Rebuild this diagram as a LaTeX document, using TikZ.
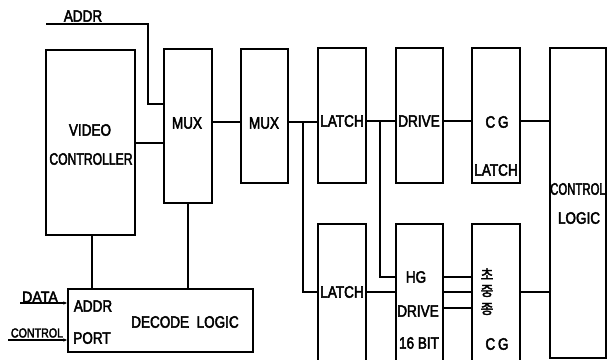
\documentclass[tikz,border=0pt]{standalone}
\usepackage{fontspec}
\setmainfont{Liberation Sans}[FakeStretch=0.82, FakeBold=2.6]
\newfontfamily\kr{Noto Sans CJK KR}[FakeBold=2.5]
\usetikzlibrary{arrows.meta}
\tikzset{
  blk/.style={draw, rectangle, inner sep=0pt, line width=1.2pt},
  lbl/.style={inner sep=0pt, font=\fontsize{16.5}{17}\selectfont},
  squeeze/.style={xscale=#1, transform shape},
  slbl/.style={inner sep=0pt, font=\fontsize{15.5}{16}\selectfont},
  sslbl/.style={inner sep=0pt, font=\fontsize{13}{13}\selectfont},
  klbl/.style={inner sep=0pt, font=\kr\fontsize{14}{14}\selectfont},
  wire/.style={line width=1.1pt},
  inarrow/.style={line width=1.1pt, -{Latex[length=4pt,width=3.5pt]}}
}
\begin{document}
\begin{tikzpicture}[x=1pt,y=-1pt]
\useasboundingbox (0,0) rectangle (615,359);
\clip (0,0) rectangle (615,359);
% boxes
\node[blk, minimum width=89pt, minimum height=185pt] (vc) at (90.5,142.5) {};
\node[blk, minimum width=48pt, minimum height=154pt] (mux1) at (188,126) {};
\node[blk, minimum width=47pt, minimum height=134pt] (mux2) at (264.5,116) {};
\node[blk, minimum width=48pt, minimum height=135pt] (latch1) at (342,115.5) {};
\node[blk, minimum width=47pt, minimum height=135pt] (drive) at (419.5,115.5) {};
\node[blk, minimum width=48pt, minimum height=135pt] (cgl) at (496,115.5) {};
\node[blk, minimum width=56pt, minimum height=310pt] (ctrl) at (578,203) {};
\node[blk, minimum width=48pt, minimum height=146pt] (latch2) at (342,297) {};
\node[blk, minimum width=47pt, minimum height=146pt] (hg) at (419.5,297) {};
\node[blk, minimum width=48pt, minimum height=146pt] (cg) at (496,297) {};
\node[blk, minimum width=185pt, minimum height=63pt] (dec) at (160.5,320.5) {};
% texts
\node[lbl] (t1) at (90,130) {VIDEO};
\node[lbl, squeeze=0.9] (t2) at (91,159) {CONTROLLER};
\node[lbl] (t3) at (187,123) {MUX};
\node[lbl] (t4) at (264,123) {MUX};
\node[lbl] (t5) at (342,121) {LATCH};
\node[lbl] (t6) at (419,121) {DRIVE};
\node[lbl] (t7) at (497,122) {C\,G};
\node[lbl] (t8) at (496,170) {LATCH};
\node[lbl, squeeze=0.84] (t9) at (578,189) {CONTROL};
\node[lbl] (t10) at (579,218) {LOGIC};
\node[lbl] (t11) at (342,292) {LATCH};
\node[lbl] (t12) at (416,277) {HG};
\node[lbl] (t13) at (418,311) {DRIVE};
\node[lbl] (t14) at (419,343) {16 BIT};
\node[klbl] (k1) at (487,274) {초};
\node[klbl] (k2) at (487,291) {중};
\node[klbl] (k3) at (487,309) {종};
\node[lbl] (t15) at (497,344) {C\,G};
\node[lbl] (t16) at (93,306) {ADDR};
\node[lbl] (t17) at (92,338) {PORT};
\node[lbl] (t18) at (185,322) {DECODE\ \ LOGIC};
\node[lbl] (t19) at (83,16) {ADDR};
\node[slbl, squeeze=1.12] (t20) at (40,297) {DATA};
\node[sslbl] (t21) at (37,333) {CONTROL};
% connectors
\coordinate (addrs) at (46,24);
\draw[wire] (addrs) -- (148,24) -- (148,104) -- (mux1.west |- 0,104);
\draw[wire] (vc.east |- 0,143) -- (mux1.west |- 0,143);
\draw[wire] (mux1.east |- 0,122) -- (mux2.west |- 0,122);
\draw[wire] (mux2.east |- 0,122) -- (latch1.west |- 0,122);
\draw[wire] (303,122) -- (303,292) -- (latch2.west |- 0,292);
\draw[wire] (latch1.east |- 0,121) -- (drive.west |- 0,121);
\draw[wire] (380,121) -- (380,277) -- (hg.west |- 0,277);
\draw[wire] (drive.east |- 0,121) -- (cgl.west |- 0,121);
\draw[wire] (cgl.east |- 0,121) -- (ctrl.west |- 0,121);
\draw[wire] (latch2.east |- 0,292) -- (hg.west |- 0,292);
\draw[wire] (hg.east |- 0,277) -- (cg.west |- 0,277);
\draw[wire] (hg.east |- 0,292) -- (cg.west |- 0,292);
\draw[wire] (hg.east |- 0,308) -- (cg.west |- 0,308);
\draw[wire] (cg.east |- 0,292) -- (ctrl.west |- 0,292);
\draw[wire] (vc.south -| 92,0) -- (dec.north -| 92,0);
\draw[wire] (mux1.south) -- (dec.north -| mux1.south);
\coordinate (datas) at (20,303);
\coordinate (ctrls) at (8,340);
\draw[inarrow] (datas) -- (dec.west |- datas);
\draw[inarrow] (ctrls) -- (dec.west |- ctrls);
\end{tikzpicture}
\end{document}
